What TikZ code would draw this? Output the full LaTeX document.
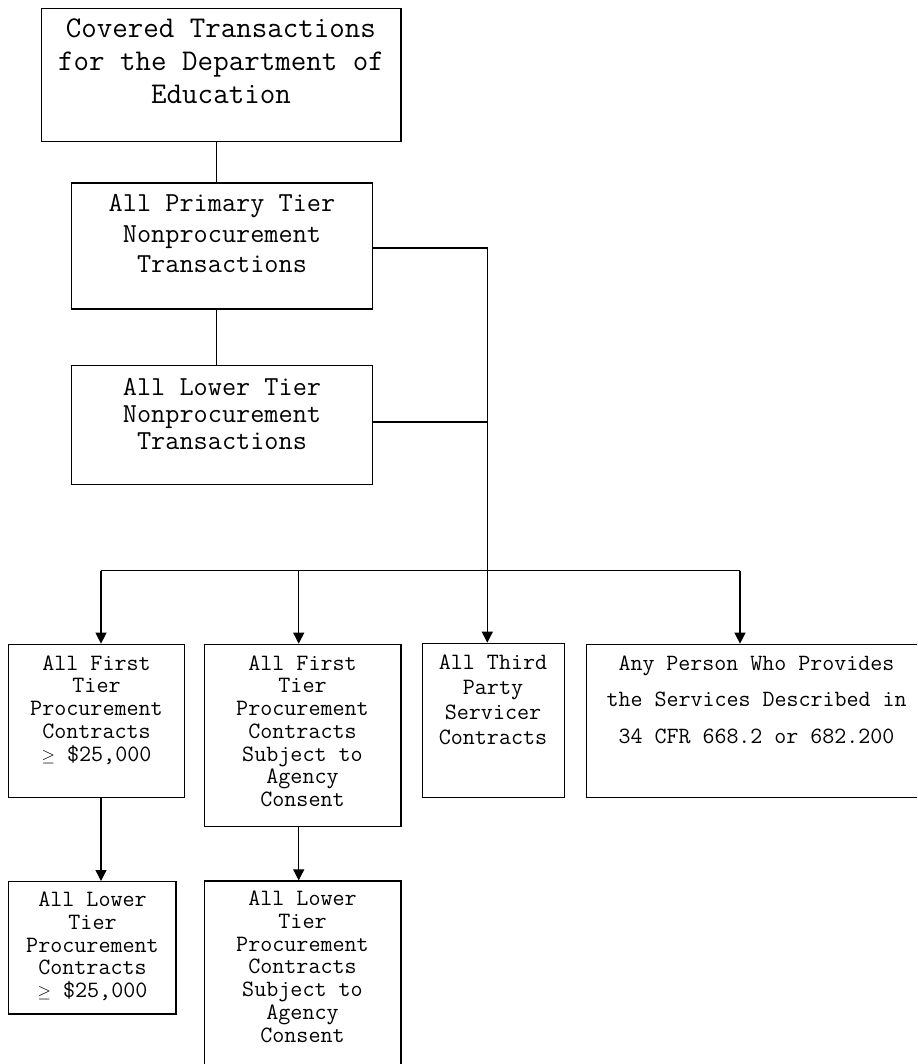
\documentclass[tikz,border=0pt]{standalone}
\usepackage{fontspec}
\usetikzlibrary{arrows.meta}
\newcommand{\gesym}{{\fontsize{17}{17}\selectfont$\geq$}}
\tikzset{
  box/.style={draw=black, line width=1.3pt, inner sep=0pt, rectangle},
  txt/.style={inner sep=0pt, align=center, anchor=base, text=black},
  line/.style={draw=black, line width=1.3pt},
  arr/.style={line, -{Triangle[length=11pt,width=11pt]}},
  fA/.style={font=\ttfamily\fontsize{30.1}{32.8}\selectfont},
  fB/.style={font=\ttfamily\fontsize{27.5}{30.5}\selectfont},
  fC/.style={font=\ttfamily\fontsize{27.5}{27}\selectfont},
  fD/.style={font=\ttfamily\fontsize{23.4}{22.75}\selectfont},
  fE/.style={font=\ttfamily\fontsize{23.4}{25.3}\selectfont},
  fF/.style={font=\ttfamily\fontsize{23.3}{36.7}\selectfont},
}
\begin{document}
\begin{tikzpicture}[x=1pt,y=-1pt]
\useasboundingbox (0,0) rectangle (917,1064);
\clip (0,0) rectangle (917,1064);
\fill[white] (0,0) rectangle (917,1064);
% boxes
\node[box, minimum width=359.3pt, minimum height=133.4pt] (cov) at (221.3,75) {};
\node[box, minimum width=301pt, minimum height=126pt] (pri) at (222.2,246) {};
\node[box, minimum width=301pt, minimum height=118.6pt] (low) at (222.2,425) {};
\node[box, minimum width=176pt, minimum height=153pt] (first) at (96.3,720.8) {};
\node[box, minimum width=196.7pt, minimum height=182.4pt] (firstc) at (302.7,735.5) {};
\node[box, minimum width=142pt, minimum height=154pt] (third) at (493.7,720.3) {};
\node[box, minimum width=340.3pt, minimum height=153pt] (person) at (756.8,720.8) {};
\node[box, minimum width=167.7pt, minimum height=132.3pt] (lowerp) at (92.2,947.8) {};
\node[box, minimum width=196.7pt, minimum height=199pt] (lowerc) at (302.7,980.5) {};
% texts (anchored at the baseline of the last line)
\node[txt, fA] (covt) at (221,103.3) {Covered Transactions\\for the Department of\\Education};
\node[txt, fB] (prit) at (222,272.7) {All Primary Tier\\Nonprocurement\\Transactions};
\node[txt, fC] (lowt) at (222,449) {All Lower Tier\\Nonprocurement\\Transactions};
\node[txt, fD] (firstt) at (96.5,761) {All First\\Tier\\Procurement\\Contracts\\\gesym{} \$25,000};
\node[txt, fD] (firstct) at (302.5,806.5) {All First\\Tier\\Procurement\\Contracts\\Subject to\\Agency\\Consent};
\node[txt, fE] (thirdt) at (493,744.9) {All Third\\Party\\Servicer\\Contracts};
\node[txt, fF] (persont) at (756.5,743.4) {Any Person Who Provides\\the Services Described in\\34 CFR 668.2 or 682.200};
\node[txt, fD] (lowerpt) at (92.5,997.7) {All Lower\\Tier\\Procurement\\Contracts\\\gesym{} \$25,000};
\node[txt, fD] (lowerct) at (302.5,1042) {All Lower\\Tier\\Procurement\\Contracts\\Subject to\\Agency\\Consent};
% junction coordinates
\coordinate (ax) at (216.7,0);
\coordinate (j1) at (487.3,248);
\coordinate (j2) at (487.3,422);
\coordinate (bm) at (487.3,570.7);
\coordinate (bl) at (101,570.7);
\coordinate (b2) at (298.7,570.7);
\coordinate (br) at (740,570.7);
% connectors
\draw[line] (cov.south -| ax) -- (pri.north -| ax);
\draw[line] (pri.south -| ax) -- (low.north -| ax);
\draw[line] (pri.east |- j1) -- (j1) -- (bm);
\draw[line] (low.east |- j2) -- (j2);
\draw[line] (bl) -- (br);
\draw[arr] (bm) -- (bm |- third.north);
\draw[arr] (bl) -- (bl |- first.north);
\draw[arr] (b2) -- (b2 |- firstc.north);
\draw[arr] (br) -- (br |- person.north);
\draw[arr] (first.south -| bl) -- (lowerp.north -| bl);
\draw[arr] (firstc.south -| b2) -- (lowerc.north -| b2);
\end{tikzpicture}
\end{document}
